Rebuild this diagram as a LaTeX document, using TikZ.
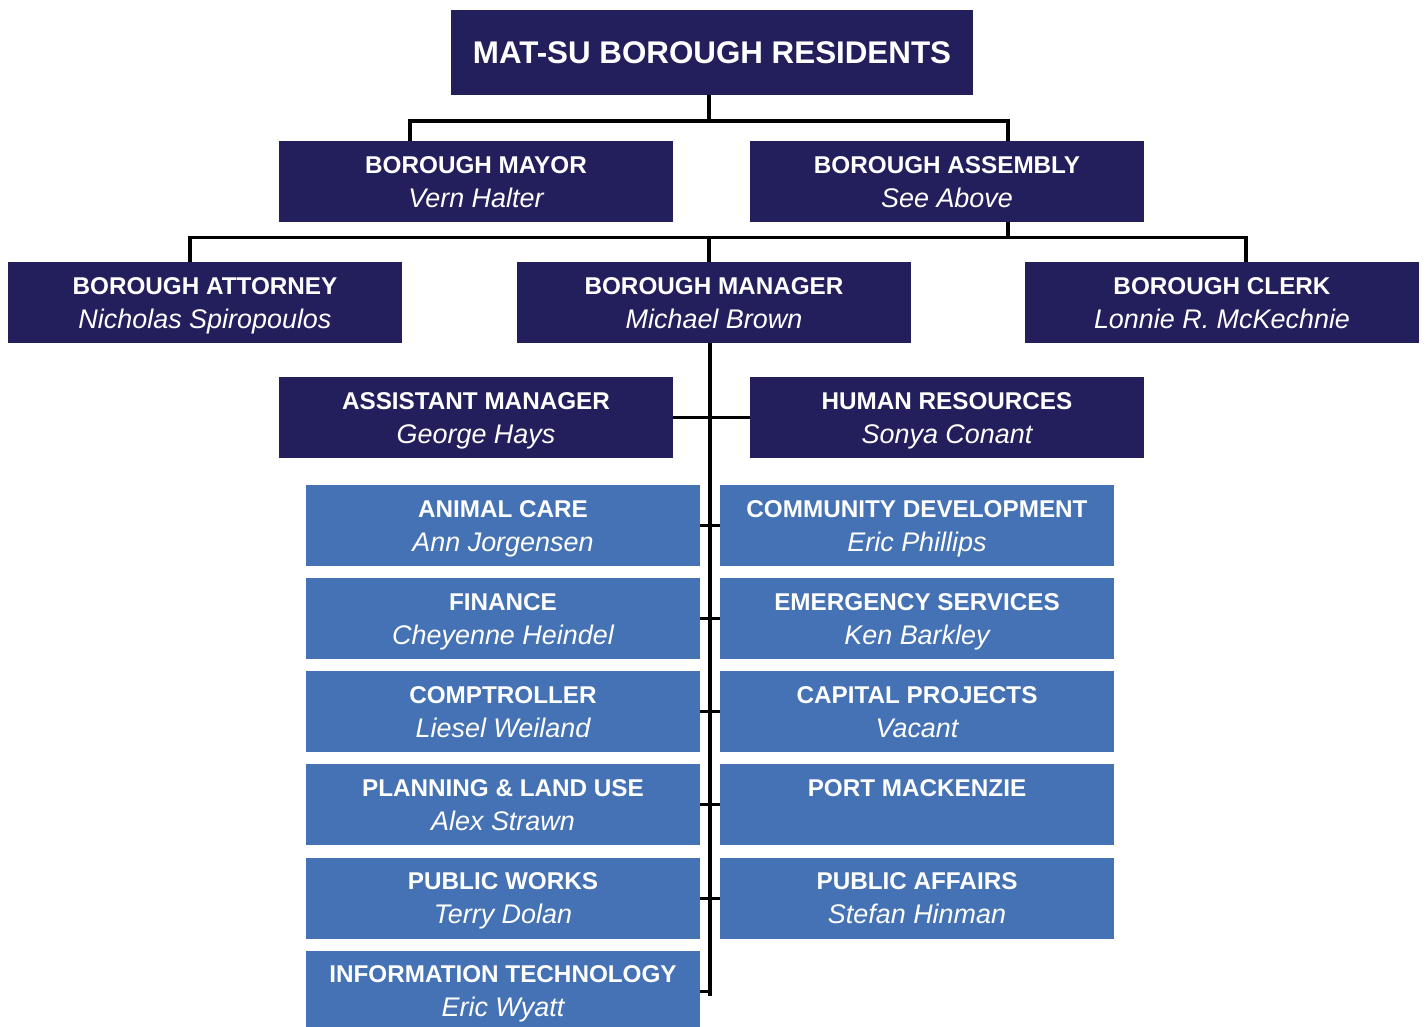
\documentclass[tikz,border=0pt]{standalone}
\usepackage{fontspec}
\setmainfont{Liberation Sans}
\usetikzlibrary{positioning}
\definecolor{navy}{HTML}{231F5C}
\definecolor{deptblue}{HTML}{4472B4}
\newcommand{\post}[2]{\rule{0pt}{18pt}#1\\{\mdseries\itshape\fontsize{20.2}{25.5}\selectfont #2}\rule[-5pt]{0pt}{5pt}}

\begin{document}
\begin{tikzpicture}[x=0.75pt, y=-0.75pt,
    office/.style={rectangle, fill=navy, text=white, inner sep=0pt, align=center,
        minimum width=295.5pt, minimum height=60.75pt,
        font=\fontsize{18.2}{25.5}\selectfont\bfseries},
    dept/.style={office, fill=deptblue},
    link/.style={line width=2.3pt},
    node distance=8.7pt]
                \useasboundingbox (0,0) rectangle (1426,1026);

                % top levels
                \node[office, minimum width=391.5pt, minimum height=63.75pt,
                      font=\fontsize{23.5}{28}\selectfont\bfseries] (res) at (712,52.5) {MAT-SU BOROUGH RESIDENTS};
                \node[office] (mayor) at (476,181.5) {\post{BOROUGH MAYOR}{Vern Halter}};
                \node[office] (assembly) at (947,181.5) {\post{BOROUGH ASSEMBLY}{See Above}};
                \node[office] (attorney) at (205,302.5) {\post{BOROUGH ATTORNEY}{Nicholas Spiropoulos}};
                \node[office] (manager) at (714,302.5) {\post{BOROUGH MANAGER}{Michael Brown}};
                \node[office] (clerk) at (1222,302.5) {\post{BOROUGH CLERK}{Lonnie R. McKechnie}};
                \node[office] (asst) at (476,417.5) {\post{ASSISTANT MANAGER}{George Hays}};
                \node[office] (hr) at (947,417.5) {\post{HUMAN RESOURCES}{Sonya Conant}};

                % departments
                \node[dept] (animal) at (503,525.5) {\post{ANIMAL CARE}{Ann Jorgensen}};
                \node[dept, below=of animal] (finance) {\post{FINANCE}{Cheyenne Heindel}};
                \node[dept, below=of finance] (comptroller) {\post{COMPTROLLER}{Liesel Weiland}};
                \node[dept, below=of comptroller] (planning) {\post{PLANNING \& LAND USE}{Alex Strawn}};
                \node[dept, below=of planning] (works) {\post{PUBLIC WORKS}{Terry Dolan}};
                \node[dept, below=of works] (infotech) {\post{INFORMATION TECHNOLOGY}{Eric Wyatt}};
                \node[dept] (community) at (917,525.5) {\post{COMMUNITY DEVELOPMENT}{Eric Phillips}};
                \node[dept, below=of community] (emergency) {\post{EMERGENCY SERVICES}{Ken Barkley}};
                \node[dept, below=of emergency] (capital) {\post{CAPITAL PROJECTS}{Vacant}};
                \node[dept, below=of capital] (port) {\post{PORT MACKENZIE}{}};
                \node[dept, below=of port] (affairs) {\post{PUBLIC AFFAIRS}{Stefan Hinman}};

                % connectors
                \coordinate (topbus) at (709,121);
                \coordinate (midbus) at (709,237.5);
                \coordinate (trunkend) at (710,996);
                \draw[link] (res.south -| topbus) -- (topbus);
                \draw[link] (mayor.north -| 410,0) |- (topbus) -| (assembly.north -| 1008,0);
                \draw[link] (assembly.south -| 1008,0) -- (midbus -| 1008,0);
                \draw[link] (attorney.north -| 190,0) |- (midbus) -| (clerk.north -| 1246,0);
                \draw[link] (manager.north -| midbus) -- (midbus);
                \draw[link] (manager.south -| trunkend) -- (trunkend);
                \draw[link] (asst.east) -- (hr.west);
                \draw[link] (animal.east) -- (community.west);
                \draw[link] (finance.east) -- (emergency.west);
                \draw[link] (comptroller.east) -- (capital.west);
                \draw[link] (planning.east) -- (port.west);
                \draw[link] (works.east) -- (affairs.west);
                \draw[link] (infotech.east) -- (infotech.east -| trunkend);
\end{tikzpicture}
\end{document}
